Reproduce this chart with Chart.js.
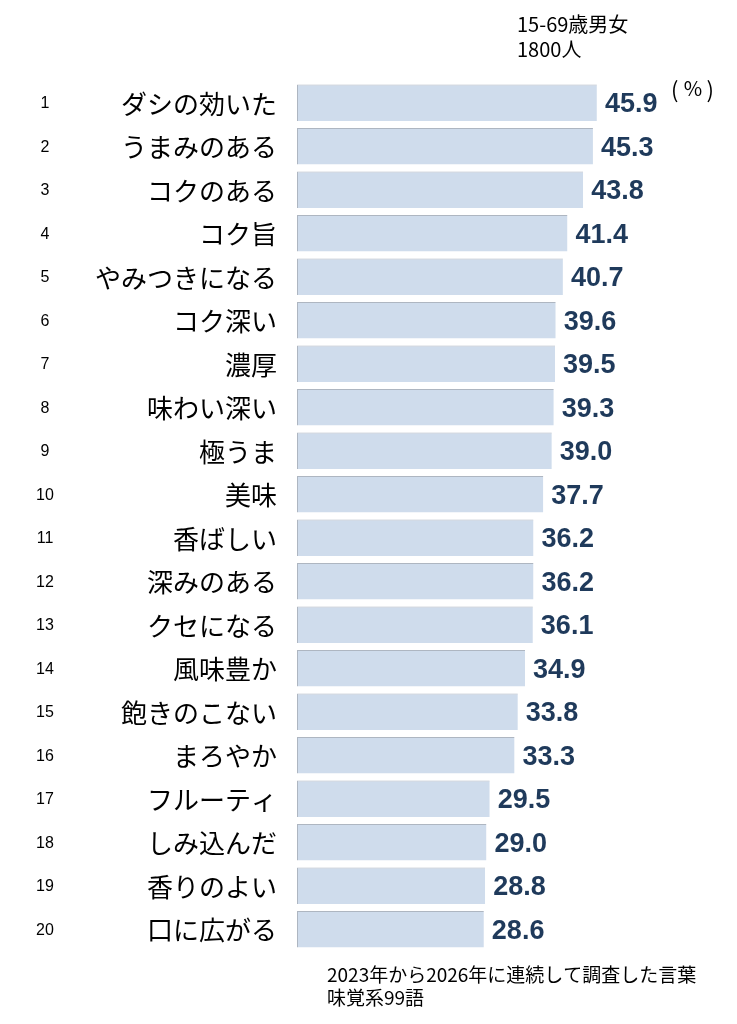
<!DOCTYPE html>
<html><head><meta charset="utf-8">
<script src="https://cdn.jsdelivr.net/npm/chart.js@4.4.1/dist/chart.umd.min.js"></script>
<style>html,body{margin:0;padding:0;background:#fff}#wrap{width:737px;height:1024px;position:relative}</style>
</head><body><div id="wrap"><canvas id="c"></canvas></div>
<script>
const ranks = [1,2,3,4,5,6,7,8,9,10,11,12,13,14,15,16,17,18,19,20];
const words = ["ダシの効いた","うまみのある","コクのある","コク旨","やみつきになる","コク深い","濃厚","味わい深い","極うま","美味","香ばしい","深みのある","クセになる","風味豊か","飽きのこない","まろやか","フルーティ","しみ込んだ","香りのよい","口に広がる"];
const values = [45.9,45.3,43.8,41.4,40.7,39.6,39.5,39.3,39.0,37.7,36.2,36.2,36.1,34.9,33.8,33.3,29.5,29.0,28.8,28.6];
const topNote = ["15-69歳男女","1800人"];
const unitNote = ["(", "%", ")"];
const bottomNote = ["2023年から2026年に連続して調査した言葉","味覚系99語"];

const JP = '"Noto Sans CJK JP", "Noto Sans", sans-serif';
const labelsPlugin = {
  id: 'labels',
  afterDatasetsDraw(chart) {
    const ctx = chart.ctx;
    const meta = chart.getDatasetMeta(0);
    ctx.save();
    meta.data.forEach((bar, i) => {
      const y = bar.y;
      ctx.textBaseline = 'middle';
      ctx.fillStyle = '#000';
      ctx.font = '16px "Liberation Sans", Arial, sans-serif';
      ctx.textAlign = 'center';
      ctx.fillText(String(ranks[i]), 45, y + 1);
      ctx.font = '26px ' + JP;
      ctx.textAlign = 'right';
      ctx.fillText(words[i], 277, y + 1);
      ctx.font = 'bold 27px "Liberation Sans", Arial, sans-serif';
      ctx.textAlign = 'left';
      ctx.fillStyle = '#1f3a5b';
      ctx.fillText(values[i].toFixed(1), bar.x + 8, y + 2);
    });
    ctx.fillStyle = '#000';
    ctx.textAlign = 'left';
    ctx.textBaseline = 'middle';
    ctx.font = '20px ' + JP;
    ctx.fillText(topNote[0], 517, 24);
    ctx.fillText(topNote[1], 517, 49);
    ctx.font = '22px ' + JP;
    ctx.textAlign = 'left';
    ctx.fillText(unitNote[0], 671, 90);
    ctx.textAlign = 'center';
    ctx.font = '20px ' + JP;
    ctx.fillText(unitNote[1], 693, 88);
    ctx.textAlign = 'right';
    ctx.font = '22px ' + JP;
    ctx.fillText(unitNote[2], 714, 90);
    ctx.textAlign = 'left';
    ctx.font = '19px ' + JP;
    ctx.fillText(bottomNote[0], 327, 975);
    ctx.fillText(bottomNote[1], 327, 998);
    ctx.restore();
  }
};

new Chart(document.getElementById('c'), {
  type: 'bar',
  data: {
    labels: words,
    datasets: [{
      data: values,
      backgroundColor: '#cfdcec',
      borderColor: '#aeb6c1',
      borderWidth: {left: 1, top: 1, right: 0, bottom: 0},
      borderSkipped: false,
      categoryPercentage: 1,
      barPercentage: 0.84
    }]
  },
  options: {
    indexAxis: 'y',
    responsive: true,
    maintainAspectRatio: false,
    animation: false,
    layout: {padding: {left: 297, right: 48, top: 81, bottom: 73}},
    plugins: {legend: {display: false}, tooltip: {enabled: false}},
    scales: {
      x: {display: false, min: 0, max: 60, grid: {display: false}},
      y: {display: false, grid: {display: false}}
    }
  },
  plugins: [labelsPlugin]
});
</script></body></html>
